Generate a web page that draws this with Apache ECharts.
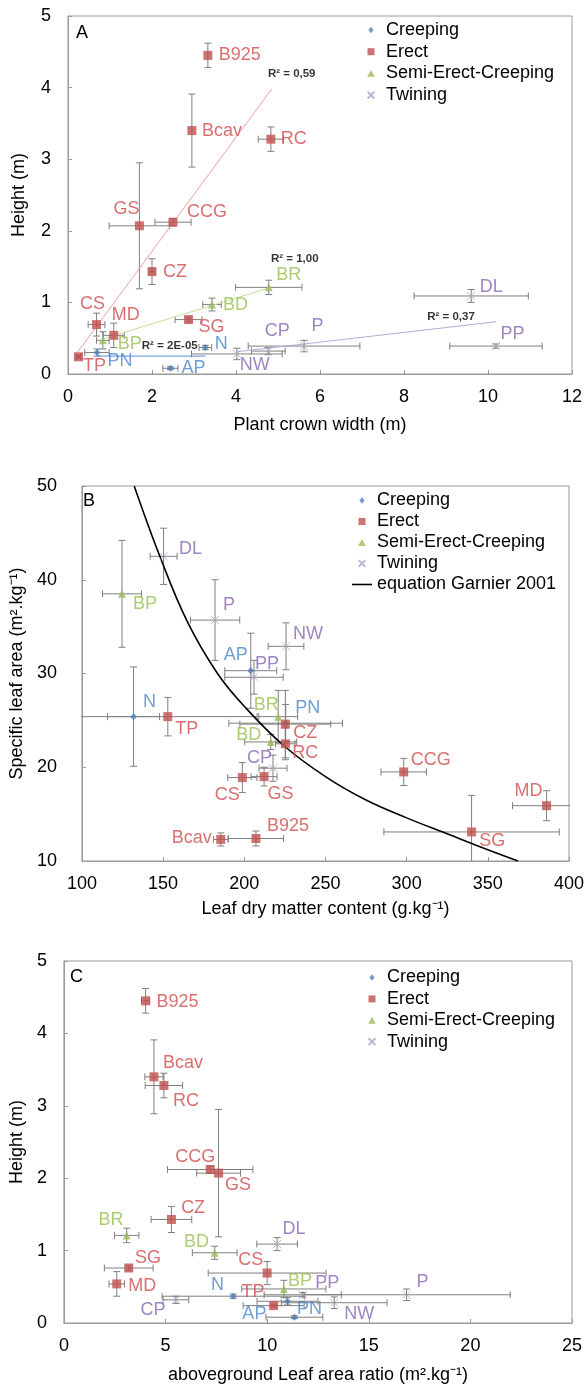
<!DOCTYPE html>
<html><head><meta charset="utf-8">
<script src="https://cdn.jsdelivr.net/npm/echarts@6/dist/echarts.min.js"></script>
<style>html,body{margin:0;padding:0;background:#fff}#c{width:587px;height:1385px}</style>
</head><body><div id="c"></div>
<script>
// ---- data ----
const species = ['N','PN','AP','B925','Bcav','RC','GS','CCG','CZ','CS','MD','SG','TP','BR','BD','BP','DL','P','PP','CP','NW'];
const habit = ['Creeping','Creeping','Creeping','Erect','Erect','Erect','Erect','Erect','Erect','Erect','Erect','Erect','Erect',
  'Semi-Erect-Creeping','Semi-Erect-Creeping','Semi-Erect-Creeping','Twining','Twining','Twining','Twining','Twining'];
const habits = ['Creeping','Erect','Semi-Erect-Creeping','Twining'];

// Panel A: plant crown width (m) vs height (m)
const crownWidth    = [3.27,0.69,2.44,3.33,2.95,4.83,1.70,2.50,2.00,0.68,1.09,2.87,0.25,4.78,3.43,0.83,9.60,5.62,10.19,4.77,4.02];
const crownWidthErr = [0.15,0.29,0.18,0.00,0.00,0.30,0.72,0.43,0.05,0.20,0.25,0.32,0.05,0.79,0.22,0.15,1.36,1.33,1.10,0.40,1.08];
const height        = [0.37,0.30,0.08,4.45,3.40,3.28,2.07,2.12,1.43,0.69,0.54,0.76,0.24,1.21,0.97,0.47,1.09,0.39,0.39,0.32,0.28];
const heightErr     = [0.03,0.05,0.02,0.17,0.51,0.17,0.88,0.05,0.18,0.16,0.17,0.03,0.02,0.10,0.09,0.12,0.09,0.08,0.03,0.05,0.08];

// Panel B: leaf dry matter content (g/kg) vs specific leaf area (m2/kg)
const ldmc    = [131.8,225.5,204.0,207.2,185.5,225.3,212.2,298.2,225.3,198.8,386.2,340.0,152.9,220.9,216.3,124.7,150.3,182.0,206.0,217.7,225.7];
const ldmcErr = [16,35,16,17,4.5,6,8,14,28,9,21,54,55,12,16,12,8.3,15.2,18,8.6,11];
const sla     = [25.4,24.7,30.3,12.4,12.3,22.5,19.0,19.5,24.6,18.9,15.9,13.1,25.4,25.4,22.7,38.5,42.5,35.7,29.6,19.9,32.9];
const slaErr  = [5.3,2.0,4.0,0.8,0.7,1.7,1.0,1.45,3.6,1.6,1.6,3.9,2.05,2.8,0.8,5.7,3.0,4.3,1.8,1.4,2.5];

// Panel C: aboveground leaf area ratio (m2/kg) vs height (m)
const lar    = [8.33,11.0,11.34,4.02,4.43,4.92,7.61,7.20,5.29,10.0,2.60,3.19,10.32,3.09,7.42,10.82,10.49,16.86,11.75,5.51,13.3];
const larErr = [3.5,1.5,1.4,0.2,0.45,0.92,1.08,2.1,1.0,2.9,0.38,1.2,1.5,0.6,1.1,2.07,1.0,5.1,1.9,0.63,2.6];

// Panel A trend lines and R² texts
const trendErect    = [[0.21,0.29],[4.85,3.98]];
const trendSemi     = [[0.83,0.49],[4.78,1.20]];
const trendCreeping = [[0.69,0.25],[3.27,0.25]];
const trendTwining  = [[4.02,0.31],[10.19,0.73]];
const r2Texts = ['R² = 0,59','R² = 1,00','R² = 2E-05','R² = 0,37'];

// Panel B: equation Garnier 2001 curve
const garnierX = [132.2,148,165,183.5,200,223.7,250,275,300,325,350,368.6];
const garnierY = [50,42.5,35.5,30,26.5,22.4,19,16.5,14.6,12.9,11.2,10];

// ---- layout / style (not data) ----
const FONT = '"Liberation Sans", Arial, sans-serif';
const labelOffA = [[16,-3],[23,9],[23,0],[32,0],[30,0],[23,0],[-13,-17],[34,-10],[23,0],[-4,-21],[12,-20],[23,7],[16,9],[20,-12],[23.5,0],[27,4],[20,-9],[13.5,-20],[16.5,-12],[9,-20],[18,11]];
const labelOffB = [[16,-15],[22,-15],[-15,-16],[32,-12],[-29,-1],[20,9],[16.5,17],[27,-12],[20,9],[-15,17],[-18,-15],[20.6,9],[19,12],[-12,-12],[-22,-7],[23,10],[27,-7],[14,-15],[13,-13],[-13.5,-10],[22,-12]];
const labelOffC = [[-15.8,-10.7],[22,8],[-40,-3],[32,1],[29,-14],[22,16],[19.4,11.7],[-15,-12],[21.7,-11.7],[-16.5,-13.3],[25.5,1.7],[19.3,-9.7],[-20.7,-13.4],[-15.8,-15.3],[-18.3,-10.6],[16.3,-7.6],[17,-15],[16,-12.3],[24.6,-11.7],[-23,10],[25,11]];
const r2Off = [[20,-15],[26,-29],[-35.6,-10],[-45,-5]];

const markerCfg = {
  'Creeping': {symbol:'diamond', symbolSize:7, itemStyle:{color:'#4F81BD'}},
  'Erect': {symbol:'rect', symbolSize:9, itemStyle:{color:'#C0504D'}},
  'Semi-Erect-Creeping': {symbol:'triangle', symbolSize:8, itemStyle:{color:'#9BBB59'}},
  'Twining': {symbol:'path://M0,0L10,10M10,0L0,10', symbolSize:8, itemStyle:{color:'#b3a2c7', borderColor:'#b3a2c7', borderWidth:1}}
};
// legend icons drawn in a 20x8 box (corner points fix the box so nothing is stretched)
const BOX = 'M0,0L0,0M20,8L20,8';
const legendIcon = {
  'Creeping': 'path://'+BOX+'M10,0.8L12.6,4L10,7.2L7.4,4Z',
  'Erect': 'path://'+BOX+'M6.5,0.5H13.5V7.5H6.5Z',
  'Semi-Erect-Creeping': 'path://'+BOX+'M10,0.6L13.8,7.4H6.2Z',
  'Twining': 'path://'+BOX+'M6.6,0.6L13.4,7.4M13.4,0.6L6.6,7.4',
  'equation Garnier 2001': 'path://'+BOX+'M0,3.2H20V4.8H0Z'
};
const labelColor = {'Creeping':'#4a86c8','Erect':'#d04b4b','Semi-Erect-Creeping':'#96c050','Twining':'#8466b4'};
const AXC = '#9a9a9a';

function scatterSeries(gi, xs, ys, offs){
  return habits.map(h => Object.assign({
    type:'scatter', name:h, xAxisIndex:gi, yAxisIndex:gi, z:5,
    label:{show:true, position:'inside', formatter:'{b}', color:labelColor[h], fontSize:18, fontFamily:FONT},
    emphasis:{disabled:true},
    data: species.map((s,i)=>i).filter(i=>habit[i]===h).map(i=>({name:species[i], value:[xs[i],ys[i]], label:{offset:offs[i]}}))
  }, markerCfg[h]));
}
function errRender(params, api){
  const x=api.value(0), y=api.value(1), ex=api.value(2), ey=api.value(3);
  const st={stroke:'#7f7f7f', lineWidth:1, fill:null};
  const cap=3.5, ch=[];
  const ln=(a,b,c,d)=>ch.push({type:'line', shape:{x1:a,y1:b,x2:c,y2:d}, style:st});
  if(ex>0){
    const l=api.coord([x-ex,y]), r=api.coord([x+ex,y]);
    ln(l[0],l[1],r[0],r[1]); ln(l[0],l[1]-cap,l[0],l[1]+cap); ln(r[0],r[1]-cap,r[0],r[1]+cap);
  }
  if(ey>0){
    const t=api.coord([x,y+ey]), b=api.coord([x,y-ey]);
    ln(t[0],t[1],b[0],b[1]); ln(t[0]-cap,t[1],t[0]+cap,t[1]); ln(b[0]-cap,b[1],b[0]+cap,b[1]);
  }
  return {type:'group', children:ch};
}
function errSeries(gi, xs, ys, exs, eys){
  return {type:'custom', name:'err'+gi, xAxisIndex:gi, yAxisIndex:gi, z:2, clip:true, silent:true,
    renderItem:errRender, encode:{x:0,y:1}, data:species.map((s,i)=>[xs[i],ys[i],exs[i],eys[i]])};
}
function xAx(gi,min,max,interval,name,nameGap){
  return {type:'value', gridIndex:gi, min, max, interval, name, nameLocation:'middle', nameGap,
    nameTextStyle:{fontSize:18,color:'#000',fontFamily:FONT},
    axisLine:{show:true,onZero:false,lineStyle:{color:AXC}},
    axisTick:{show:true,inside:true,length:4,lineStyle:{color:AXC}},
    axisLabel:{fontSize:18,color:'#000',margin:14,fontFamily:FONT},
    splitLine:{show:false}};
}
function yAx(gi,min,max,interval,name,nameGap,margin){
  const a=xAx(gi,min,max,interval,name,nameGap);
  a.axisLabel.margin=margin; a.nameRotate=90; return a;
}

const trendColors = ['#eea0a0','#c8dc9c','#5b8fd0','#b8a8d8'];
const trends = [trendErect, trendSemi, trendCreeping, trendTwining];
const series = [];
series.push(errSeries(0, crownWidth, height, crownWidthErr, heightErr));
series.push(errSeries(1, ldmc, sla, ldmcErr, slaErr));
series.push(errSeries(2, lar, height, larErr, heightErr));
trends.forEach((t,k)=>series.push({type:'line', name:'trend'+k, xAxisIndex:0, yAxisIndex:0, z:3, symbol:'none', silent:true,
  lineStyle:{color:trendColors[k], width:1}, data:t}));
series.push({type:'scatter', name:'r2', xAxisIndex:0, yAxisIndex:0, z:6, symbolSize:0, silent:true,
  label:{show:true, position:'inside', formatter:'{b}', color:'#000', fontSize:11.5, fontWeight:'bold', fontFamily:FONT},
  data: trends.map((t,k)=>({name:r2Texts[k], value:t[1], label:{offset:r2Off[k]}}))});
series.push({type:'line', name:'equation Garnier 2001', xAxisIndex:1, yAxisIndex:1, z:4, symbol:'none', smooth:0.4, silent:true,
  lineStyle:{color:'#000', width:1.6}, itemStyle:{color:'#000'}, data:garnierX.map((x,i)=>[x,garnierY[i]])});
series.push(...scatterSeries(0, crownWidth, height, labelOffA));
series.push(...scatterSeries(1, ldmc, sla, labelOffB));
series.push(...scatterSeries(2, lar, height, labelOffC));

const legendItems = names => names.map(n => ({name:n, icon:legendIcon[n]}));
const legendBase = {orient:'vertical', itemWidth:20, itemHeight:8, padding:0,
  textStyle:{fontSize:18,color:'#000',fontFamily:FONT}, selectedMode:false};
const option = {
  animation:false,
  grid:[
    {left:68, top:16, width:504, height:358, show:true, borderColor:AXC, borderWidth:1},
    {left:75, top:486, width:497, height:375, show:true, borderColor:AXC, borderWidth:1},
    {left:62, top:961, width:510, height:363, show:true, borderColor:AXC, borderWidth:1}
  ],
  xAxis:[
    xAx(0,0,12,2,'Plant crown width (m)',42),
    xAx(1,100,400,50,'Leaf dry matter content (g.kg⁻¹)',39),
    xAx(2,0,25,5,'aboveground Leaf area ratio (m².kg⁻¹)',43)
  ],
  yAxis:[
    yAx(0,0,5,1,'Height (m)',40,17),
    yAx(1,10,50,10,'Specific leaf area (m².kg⁻¹)',49,25),
    yAx(2,0,5,1,'Height (m)',35,17)
  ],
  legend:[
    Object.assign({left:360, top:21, itemGap:3.7, data:legendItems(habits)}, legendBase),
    Object.assign({left:351, top:491.5, itemGap:3, data:legendItems(habits.concat(['equation Garnier 2001']))}, legendBase),
    Object.assign({left:361, top:968.5, itemGap:3.4, data:legendItems(habits)}, legendBase)
  ],
  graphic:[
    {type:'text', left:76, top:24, style:{text:'A', fontSize:18, fill:'#000', fontFamily:FONT}},
    {type:'text', left:83, top:492, style:{text:'B', fontSize:18, fill:'#000', fontFamily:FONT}},
    {type:'text', left:70, top:968, style:{text:'C', fontSize:18, fill:'#000', fontFamily:FONT}}
  ],
  series
};
const chart = echarts.init(document.getElementById('c'), null, {renderer:'canvas'});
chart.setOption(option);
</script></body></html>
